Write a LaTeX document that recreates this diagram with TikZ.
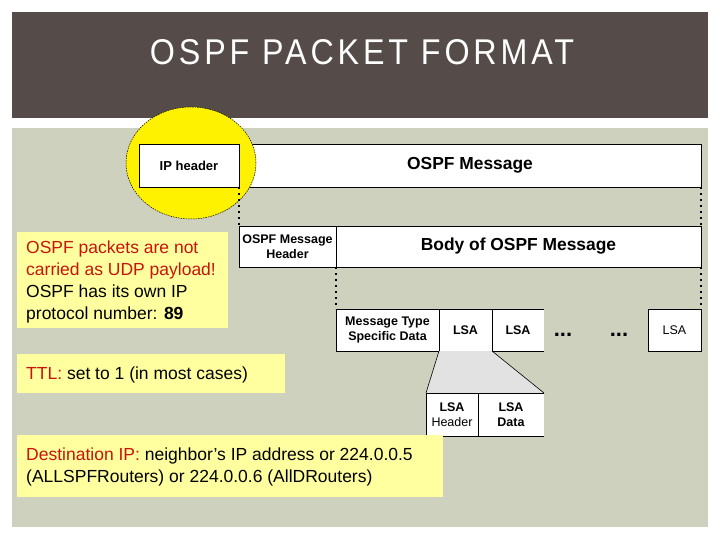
\documentclass[tikz,border=0pt]{standalone}
\usepackage{fontspec}
\usepackage{graphicx}
\setmainfont{Liberation Sans}
\usetikzlibrary{shapes.geometric}
\definecolor{titlebg}{RGB}{85,76,73}
\definecolor{contentbg}{RGB}{206,209,190}
\definecolor{noteyellow}{RGB}{255,255,160}
\definecolor{notered}{RGB}{200,20,10}
\definecolor{trapgray}{RGB}{226,226,226}
\begin{document}
\begin{tikzpicture}[x=1pt,y=-1pt,
  cell/.style={draw=black, line width=0.9pt, fill=white, inner sep=0pt, outer sep=0pt,
    font=\bfseries\fontsize{12.5}{15.5}\selectfont, align=center},
  bigcell/.style={cell, font=\bfseries\fontsize{17.4}{20}\selectfont},
  notebox/.style={fill=noteyellow, inner sep=0pt, outer sep=0pt},
  notetext/.style={anchor=west, align=left, inner sep=0pt, font=\fontsize{17.5}{21.8}\selectfont},
  dotline/.style={line width=1.4pt, dash pattern=on 2pt off 4pt},
  ellip/.style={line width=0.5pt, dash pattern=on 1.5pt off 1pt},
  dots/.style={inner sep=0pt, font=\bfseries\fontsize{22}{22}\selectfont},
]
\useasboundingbox (0,0) rectangle (720,540);
\fill[white] (0,0) rectangle (720,540);
% title bar
\fill[titlebg] (12,12) rectangle (708,118);
\node[text=white, inner sep=0pt] (title) at (362,52.5)
  {\resizebox{424pt}{25pt}{\addfontfeature{LetterSpace=12}OSPF PACKET FORMAT}};
% content
\fill[contentbg] (12,128) rectangle (708,527);
% row 1 (OSPF message box under the ellipse)
\node[bigcell, minimum width=462pt, minimum height=43pt] (msg) at (470,165.5) {OSPF Message};
% yellow ellipse
\node[ellipse, fill=yellow, draw=black, ellip, minimum width=130pt, minimum height=112pt, inner sep=0pt] (circ) at (191,163) {};
\node[cell, font=\bfseries\fontsize{13}{15}\selectfont, minimum width=100pt, minimum height=43pt] (ip) at (189,165.5) {IP header};
% row 2
\node[cell, minimum width=97pt, minimum height=41pt] (hdr) at (287.5,246.5) {OSPF Message\\Header};
\node[bigcell, minimum width=365pt, minimum height=41pt] (body) at (518.5,246.5) {Body of OSPF Message};
% row 3
\node[cell, minimum width=103pt, minimum height=42pt] (mtype) at (387.5,330) {Message Type\\Specific Data};
\node[cell, minimum width=53pt, minimum height=42pt] (lsa1) at (465.5,330) {LSA};
\node[cell, draw=none, minimum width=52pt, minimum height=42pt] (lsa2) at (518,330) {LSA};
\draw[line width=0.9pt] (lsa2.north east) -- (lsa2.north west) -- (lsa2.south west) -- (lsa2.south east);
\node[dots] (dotsA) at (563,335) {...};
\node[dots] (dotsB) at (619,335) {...};
\node[cell, font=\fontsize{12.5}{15}\selectfont, minimum width=53pt, minimum height=42pt] (lsa3) at (674.5,330) {LSA};
% expansion of LSA
\fill[trapgray] (lsa1.south west) -- (lsa1.south east) -- (544,393) -- (426,393) -- cycle;
\node[cell, minimum width=52pt, minimum height=43pt] (lhdr) at (452,414.5) {LSA\\{\mdseries Header}};
\node[cell, draw=none, minimum width=66pt, minimum height=43pt] (ldata) at (511,414.5) {LSA\\Data};
\draw[line width=0.9pt] (ldata.north east) -- (ldata.north west) -- (ldata.south west) -- (ldata.south east);
\draw[line width=0.6pt] (lsa1.south west) -- (lhdr.north west);
\draw[line width=0.6pt] (lsa1.south east) -- (ldata.north east);
% dotted connectors
\draw[dotline] (ip.south east) -- (hdr.north west);
\draw[dotline] (msg.south east) -- (body.north east);
\draw[dotline] (hdr.south east) -- (mtype.north west);
\draw[dotline] (body.south east) -- (lsa3.north east);
% notes
\node[notebox, minimum width=211pt, minimum height=96pt] (note1) at (122.5,280) {};
\node[notetext] (note1t) at (26,282)
  {\textcolor{notered}{OSPF packets are not}\\
   \textcolor{notered}{carried as UDP payload!}\\
   OSPF has its own IP\\
   protocol number: \textbf{89}};
\node[notebox, minimum width=268pt, minimum height=39pt] (note2) at (151,373.5) {};
\node[notetext] (note2t) at (26,375) {\textcolor{notered}{TTL:} set to 1 (in most cases)};
\node[notebox, minimum width=426pt, minimum height=62pt] (note3) at (230,466) {};
\node[notetext] (note3t) at (26,467)
  {\textcolor{notered}{Destination IP:} neighbor’s IP address or 224.0.0.5\\
   (ALLSPFRouters) or 224.0.0.6 (AllDRouters)};
\end{tikzpicture}
\end{document}
